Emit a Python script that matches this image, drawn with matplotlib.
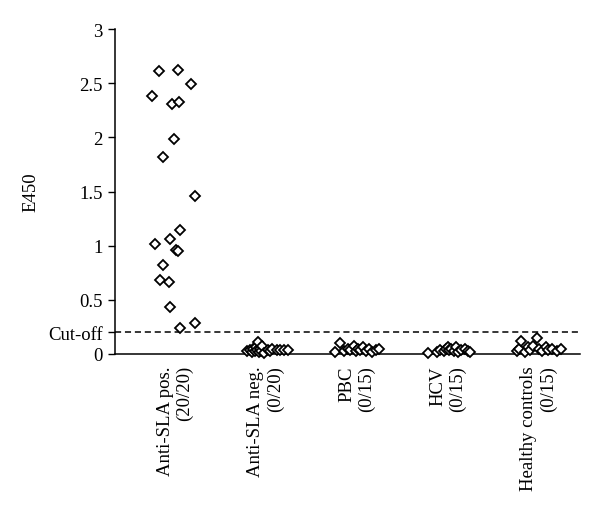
import matplotlib
matplotlib.use("Agg")
import matplotlib.pyplot as plt

plt.rcParams['font.family'] = ['Liberation Serif', 'DejaVu Serif']

groups = ["Anti-SLA pos.\n(20/20)", "Anti-SLA neg.\n(0/20)", "PBC\n(0/15)",
          "HCV\n(0/15)", "Healthy controls\n(0/15)"]

# E450 values per group
sla_pos = [2.61, 2.625, 2.49, 2.385, 2.31, 2.33, 1.985, 1.82, 1.46, 1.145,
           1.02, 1.065, 0.96, 0.95, 0.825, 0.686, 0.66, 0.437, 0.24, 0.29]
sla_neg = [0.03, 0.04, 0.02, 0.05, 0.03, 0.06, 0.04, 0.11, 0.02, 0.05,
           0.03, 0.07, 0.01, 0.04, 0.03, 0.05, 0.04, 0.04, 0.04, 0.04]
pbc = [0.02, 0.10, 0.03, 0.05, 0.04, 0.07, 0.03, 0.05, 0.04, 0.06,
       0.03, 0.05, 0.02, 0.04, 0.05]
hcv = [0.01, 0.02, 0.04, 0.03, 0.05, 0.06, 0.04, 0.05, 0.03, 0.06,
       0.02, 0.04, 0.05, 0.03, 0.02]
healthy = [0.03, 0.05, 0.12, 0.02, 0.06, 0.04, 0.07, 0.15, 0.05, 0.03,
           0.06, 0.04, 0.05, 0.03, 0.05]

# horizontal scatter of the points within each group (category units)
jit_pos = [-0.18, 0.03, 0.18, -0.25, -0.03, 0.04, -0.01, -0.13, 0.22, 0.05,
           -0.22, -0.06, 0.01, 0.03, -0.13, -0.17, -0.07, -0.06, 0.05, 0.22]
jit_neg = [-0.21, -0.18, -0.15, -0.14, -0.12, -0.11, -0.10, -0.09, -0.08, -0.07,
           -0.06, -0.04, -0.02, 0.02, 0.04, 0.07, 0.12, 0.15, 0.20, 0.24]
jit_pbc = [-0.24, -0.18, -0.14, -0.10, -0.07, -0.03, -0.01, 0.01, 0.04, 0.07,
           0.10, 0.13, 0.17, 0.21, 0.24]
jit_hcv = [-0.22, -0.12, -0.08, -0.04, -0.02, 0.0, 0.02, 0.04, 0.07, 0.09,
           0.11, 0.15, 0.19, 0.22, 0.25]
jit_hc = [-0.24, -0.21, -0.19, -0.15, -0.12, -0.09, -0.06, -0.02, 0.01, 0.04,
          0.08, 0.11, 0.15, 0.20, 0.25]

cutoff = 0.2

values = [sla_pos, sla_neg, pbc, hcv, healthy]
jitters = [jit_pos, jit_neg, jit_pbc, jit_hcv, jit_hc]

fig = plt.figure(figsize=(6, 5.1), dpi=100)
ax = fig.add_axes([0.192, 0.304, 0.775, 0.637])

for i, (v, j) in enumerate(zip(values, jitters)):
    xs = [i + d for d in j]
    ax.plot(xs, v, linestyle="none", marker="D", markersize=5.6,
            markerfacecolor="white", markeredgecolor="black",
            markeredgewidth=1.3, clip_on=False, zorder=3)

ax.axhline(cutoff, color="black", linestyle=(0, (4, 2.5)), linewidth=1.1, zorder=2)

ax.set_xlim(-0.66, 4.46)
ax.set_ylim(0, 3)

yt = [0, cutoff, 0.5, 1, 1.5, 2, 2.5, 3]
ax.set_yticks(yt)
ax.set_yticklabels(["0", "Cut-off", "0.5", "1", "1.5", "2", "2.5", "3"], fontsize=13.5)
ax.set_ylabel("E450", fontsize=13.5)
ax.yaxis.set_label_coords(-0.163, 0.5)

ax.set_xticks(range(len(groups)))
ax.set_xticklabels(groups, rotation=90, va="top", ha="center",
                   multialignment="right", fontsize=13.5)
ax.tick_params(axis="x", length=0, pad=8)
ax.tick_params(axis="y", length=5, width=1, direction="out", pad=4)

for s in ["top", "right"]:
    ax.spines[s].set_visible(False)
ax.spines["left"].set_linewidth(1.1)
ax.spines["bottom"].set_linewidth(1.1)

fig.savefig("out.png", dpi=100)
